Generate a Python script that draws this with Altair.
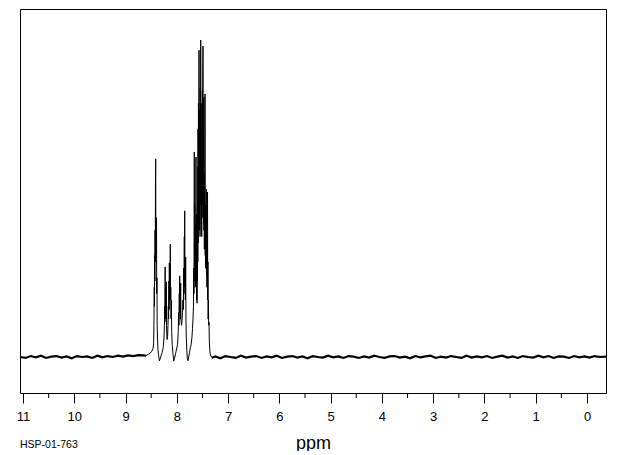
import altair as alt
import pandas as pd

# ---- data ----
spec_ppm = [
    8.60, 8.56, 8.52, 8.49, 8.465, 8.452, 8.445, 8.440, 8.436, 8.432, 8.428, 8.424,
    8.420, 8.416, 8.412, 8.408, 8.404, 8.400, 8.396, 8.392, 8.388, 8.383, 8.376,
    8.368, 8.355, 8.340, 8.325, 8.305, 8.285,
    8.265, 8.250, 8.242, 8.236, 8.232, 8.228, 8.224, 8.220, 8.216, 8.212, 8.208,
    8.205, 8.201, 8.196, 8.188, 8.180,
    8.172, 8.166, 8.160, 8.154, 8.150, 8.146, 8.142, 8.138, 8.134, 8.130, 8.127,
    8.123, 8.118, 8.112, 8.106, 8.100, 8.090, 8.075, 8.060, 8.045, 8.025, 8.005,
    7.985, 7.972, 7.964, 7.958, 7.952, 7.948, 7.944, 7.940, 7.936, 7.932, 7.928,
    7.924, 7.920, 7.914, 7.906, 7.898,
    7.890, 7.880, 7.872, 7.866, 7.860, 7.854, 7.850, 7.846, 7.842, 7.838, 7.834,
    7.830, 7.827, 7.822, 7.815, 7.805, 7.795, 7.782, 7.768, 7.752, 7.735, 7.720,
    7.706, 7.694, 7.684,
    7.676, 7.670, 7.666, 7.662, 7.659, 7.655, 7.651, 7.647, 7.643, 7.639, 7.635,
    7.631, 7.626, 7.622, 7.618, 7.614, 7.610, 7.606, 7.602, 7.598, 7.594, 7.590,
    7.586, 7.582, 7.578, 7.574, 7.570, 7.567, 7.563, 7.559, 7.555, 7.551, 7.547,
    7.543, 7.539, 7.534, 7.530, 7.526, 7.522, 7.518, 7.514, 7.510, 7.506, 7.502,
    7.498, 7.494, 7.489, 7.485, 7.481, 7.477, 7.475, 7.471, 7.467, 7.463, 7.459,
    7.455, 7.450, 7.446, 7.442, 7.438, 7.434, 7.430, 7.425, 7.421, 7.417, 7.413,
    7.409, 7.405, 7.401, 7.397, 7.393, 7.389, 7.384, 7.379, 7.372, 7.366, 7.358,
    7.348, 7.335, 7.320,
]
spec_int = [
    0.4, 0.8, 1.2, 1.8, 2.5, 4.5, 12, 22, 16, 32, 24, 40,
    30, 55, 62.5, 30, 44, 36, 43.8, 20, 25, 10, 6,
    2.5, 0.5, -1.2, -0.6, 0.5, 1.5,
    3, 6, 10, 16, 12, 28.4, 14, 22, 12, 18, 11,
    23.7, 10, 7, 5.5, 6.5,
    10, 16, 12, 24, 15, 29.7, 18, 26, 18, 30, 35.6,
    18, 22, 12, 18, 8, 4, 1, -1.3, -0.5, 1, 2.5,
    4, 8, 14, 10, 20, 14, 25.6, 14, 20, 12, 18,
    23.3, 12, 11, 10, 11.5,
    14, 18, 15, 28, 20, 38, 24, 46.1, 22, 28, 18,
    25, 31.5, 12, 6, 2, -0.5, -1.2, 0, 1.5, 3, 4,
    6, 9, 12,
    16, 28, 20, 45, 64.7, 30, 48, 24, 42, 22, 38,
    26, 63.1, 30, 45, 18, 30, 17, 42, 24, 60, 30,
    72, 36, 80, 40, 70, 96.8, 45, 78, 40, 66, 38,
    85, 48, 100, 52, 80, 42, 64, 38, 72, 44, 84,
    48, 90, 98.1, 52, 70, 42, 82, 40, 58, 34, 52,
    36, 83, 32, 48, 28, 44, 30, 53, 26, 42, 22,
    38, 25, 52, 18, 30, 12, 18, 10, 11, 5, 2.5,
    1, 0.3, 0,
]

# baseline (noise) either side of the signals
left_ppm = [11.06, 10.95, 10.85, 10.75, 10.65, 10.55, 10.45, 10.35, 10.25, 10.15,
            10.05, 9.95, 9.85, 9.75, 9.65, 9.55, 9.45, 9.35, 9.25, 9.15,
            9.05, 8.95, 8.85, 8.75, 8.65, 8.60]
left_int = [0.0, -0.3, 0.3, -0.1, 0.4, -0.3, 0.1, 0.3, -0.2, 0.2,
            -0.4, 0.3, 0.0, 0.2, -0.3, 0.4, -0.1, 0.3, 0.0, 0.4,
            0.1, 0.5, 0.3, 0.6, 0.5, 0.4]
right_ppm = [7.32, 7.25, 7.15, 7.05, 6.95, 6.85, 6.75, 6.65, 6.55, 6.45,
             6.35, 6.25, 6.15, 6.05, 5.95, 5.85, 5.75, 5.65, 5.55, 5.45,
             5.35, 5.25, 5.15, 5.05, 4.95, 4.85, 4.75, 4.65, 4.55, 4.45,
             4.35, 4.25, 4.15, 4.05, 3.95, 3.85, 3.75, 3.65, 3.55, 3.45,
             3.35, 3.25, 3.15, 3.05, 2.95, 2.85, 2.75, 2.65, 2.55, 2.45,
             2.35, 2.25, 2.15, 2.05, 1.95, 1.85, 1.75, 1.65, 1.55, 1.45,
             1.35, 1.25, 1.15, 1.05, 0.95, 0.85, 0.75, 0.65, 0.55, 0.45,
             0.35, 0.25, 0.15, 0.05, -0.05, -0.15, -0.25, -0.37]
right_int = [-0.3, 0.2, -0.4, 0.3, 0.0, -0.3, 0.4, -0.2, 0.1, 0.3,
             -0.3, 0.2, -0.1, 0.4, -0.3, 0.1, 0.3, -0.2, 0.2, -0.4,
             0.3, 0.0, -0.2, 0.4, -0.1, 0.2, -0.3, 0.3, 0.1, -0.3,
             0.2, -0.2, 0.4, 0.0, -0.3, 0.2, 0.3, -0.2, 0.1, -0.4,
             0.3, -0.1, 0.2, 0.4, -0.3, 0.1, -0.2, 0.3, 0.0, -0.3,
             0.4, -0.2, 0.2, -0.1, 0.3, -0.3, 0.1, 0.4, -0.2, 0.2,
             -0.3, 0.3, 0.0, -0.2, 0.4, -0.1, 0.3, -0.3, 0.2, 0.1,
             -0.3, 0.3, -0.1, 0.2, -0.2, 0.3, 0.0, 0.1]

major_ticks = [11, 10, 9, 8, 7, 6, 5, 4, 3, 2, 1, 0]
minor_ticks = [10.5, 9.5, 8.5, 7.5, 6.5, 5.5, 4.5, 3.5, 2.5, 1.5, 0.5]
x_domain = [11.0585, -0.3706]
y_domain = [-11.36, 109.8]
x_title = "ppm"
sample_id = "HSP-01-763"

FONT = "Liberation Sans"

spec_df = pd.DataFrame({"ppm": spec_ppm, "intensity": spec_int})
base_df = pd.DataFrame({
    "ppm": left_ppm + right_ppm,
    "intensity": left_int + right_int,
    "seg": ["left"] * len(left_ppm) + ["right"] * len(right_ppm),
})
minor_df = pd.DataFrame({"ppm": minor_ticks})
id_df = pd.DataFrame({"label": [sample_id]})

xscale = alt.Scale(domain=x_domain, nice=False, zero=False)
yscale = alt.Scale(domain=y_domain, nice=False, zero=False)

xaxis = alt.Axis(
    values=major_ticks, format="d", title=x_title, grid=False, domain=False,
    ticks=True, tickSize=10, tickColor="black", tickWidth=1,
    labelFont=FONT, labelFontSize=13, labelColor="black", labelPadding=7,
    labelFlush=False, labelOverlap=False,
    titleFont=FONT, titleFontSize=18, titleFontWeight="normal", titleColor="black",
    titlePadding=11,
)

spectrum = alt.Chart(spec_df).mark_line(color="black", strokeWidth=1).encode(
    x=alt.X("ppm:Q", scale=xscale, axis=xaxis),
    y=alt.Y("intensity:Q", scale=yscale, axis=None),
    order=alt.Order("ppm:Q", sort="descending"),
)

baseline = alt.Chart(base_df).mark_line(color="black", strokeWidth=2.2).encode(
    x=alt.X("ppm:Q", scale=xscale, axis=xaxis),
    y=alt.Y("intensity:Q", scale=yscale, axis=None),
    detail="seg:N",
    order=alt.Order("ppm:Q", sort="descending"),
)

minor = alt.Chart(minor_df).mark_rule(color="black", strokeWidth=1).encode(
    x=alt.X("ppm:Q", scale=xscale, axis=xaxis),
    y=alt.value(384),
    y2=alt.value(389),
)

idtext = alt.Chart(id_df).mark_text(
    align="left", baseline="alphabetic", font=FONT, fontSize=10.5, color="black"
).encode(
    x=alt.value(0),
    y=alt.value(439),
    text="label:N",
)

chart = alt.layer(spectrum, baseline, minor, idtext).properties(
    width=586, height=384,
    background="white",
    autosize=alt.AutoSizeParams(type="none"),
    padding={"left": 12, "top": 1, "right": 6, "bottom": 58},
).configure_view(
    stroke="black", strokeWidth=1
)

chart.save("out.html", embed_options={"renderer": "svg", "actions": False})
